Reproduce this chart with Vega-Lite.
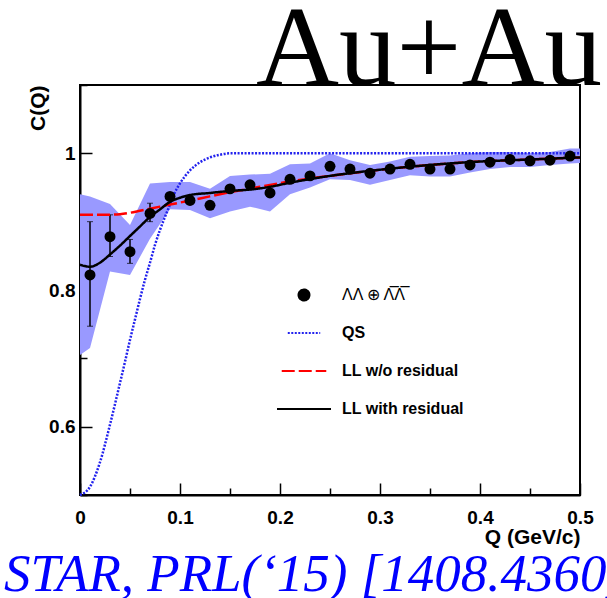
{
  "$schema": "https://vega.github.io/schema/vega-lite/v6.json",
  "width": 500,
  "height": 410,
  "autosize": {"type": "none"},
  "padding": {"left": 80, "top": 85, "right": 27, "bottom": 103},
  "background": "white",
  "title": {"text": "Au+Au", "font": "Liberation Serif", "fontSize": 115, "fontWeight": "normal", "color": "black", "anchor": "end", "frame": "group", "baseline": "top", "offset": -33, "dx": 22},
  "config": {"view": {"stroke": "black", "strokeWidth": 2}, "font": "Liberation Sans"},
  "datasets": {
    "points": [
      {"Q": 0.01, "C": 0.822}, {"Q": 0.03, "C": 0.878}, {"Q": 0.05, "C": 0.856}, {"Q": 0.07, "C": 0.912},
      {"Q": 0.09, "C": 0.937}, {"Q": 0.11, "C": 0.931}, {"Q": 0.13, "C": 0.924}, {"Q": 0.15, "C": 0.948},
      {"Q": 0.17, "C": 0.954}, {"Q": 0.19, "C": 0.942}, {"Q": 0.21, "C": 0.962}, {"Q": 0.23, "C": 0.967},
      {"Q": 0.25, "C": 0.981}, {"Q": 0.27, "C": 0.977}, {"Q": 0.29, "C": 0.971}, {"Q": 0.31, "C": 0.977},
      {"Q": 0.33, "C": 0.984}, {"Q": 0.35, "C": 0.977}, {"Q": 0.37, "C": 0.977}, {"Q": 0.39, "C": 0.983},
      {"Q": 0.41, "C": 0.987}, {"Q": 0.43, "C": 0.991}, {"Q": 0.45, "C": 0.989}, {"Q": 0.47, "C": 0.990},
      {"Q": 0.49, "C": 0.996}
    ],
    "errors": [
      {"Q": 0.01, "lo": 0.747, "hi": 0.900}, {"Q": 0.03, "lo": 0.849, "hi": 0.910},
      {"Q": 0.05, "lo": 0.839, "hi": 0.874}, {"Q": 0.07, "lo": 0.900, "hi": 0.927}
    ],
    "band": [
      {"Q": 0.0, "lo": 0.705, "hi": 0.940}, {"Q": 0.01, "lo": 0.715, "hi": 0.937}, {"Q": 0.03, "lo": 0.827, "hi": 0.926},
      {"Q": 0.05, "lo": 0.822, "hi": 0.895}, {"Q": 0.07, "lo": 0.875, "hi": 0.956}, {"Q": 0.09, "lo": 0.918, "hi": 0.958},
      {"Q": 0.11, "lo": 0.917, "hi": 0.958}, {"Q": 0.13, "lo": 0.905, "hi": 0.948}, {"Q": 0.15, "lo": 0.915, "hi": 0.967},
      {"Q": 0.17, "lo": 0.922, "hi": 0.969}, {"Q": 0.19, "lo": 0.915, "hi": 0.970}, {"Q": 0.21, "lo": 0.940, "hi": 0.984},
      {"Q": 0.23, "lo": 0.950, "hi": 0.985}, {"Q": 0.25, "lo": 0.962, "hi": 1.000}, {"Q": 0.27, "lo": 0.961, "hi": 0.990},
      {"Q": 0.29, "lo": 0.954, "hi": 0.983}, {"Q": 0.31, "lo": 0.961, "hi": 0.988}, {"Q": 0.33, "lo": 0.968, "hi": 0.995},
      {"Q": 0.35, "lo": 0.966, "hi": 0.996}, {"Q": 0.37, "lo": 0.966, "hi": 0.997}, {"Q": 0.39, "lo": 0.972, "hi": 1.000},
      {"Q": 0.41, "lo": 0.977, "hi": 1.002}, {"Q": 0.43, "lo": 0.980, "hi": 1.002}, {"Q": 0.45, "lo": 0.980, "hi": 1.000},
      {"Q": 0.47, "lo": 0.983, "hi": 1.002}, {"Q": 0.49, "lo": 0.985, "hi": 1.007}, {"Q": 0.50, "lo": 0.986, "hi": 1.007}
    ],
    "curves": [
      {"series": "QS", "Q": 0.0, "C": 0.500}, {"series": "QS", "Q": 0.01, "C": 0.512}, {"series": "QS", "Q": 0.02, "C": 0.548},
      {"series": "QS", "Q": 0.03, "C": 0.603}, {"series": "QS", "Q": 0.04, "C": 0.664}, {"series": "QS", "Q": 0.045, "C": 0.695},
      {"series": "QS", "Q": 0.05, "C": 0.727}, {"series": "QS", "Q": 0.055, "C": 0.757}, {"series": "QS", "Q": 0.06, "C": 0.787},
      {"series": "QS", "Q": 0.065, "C": 0.815}, {"series": "QS", "Q": 0.07, "C": 0.840}, {"series": "QS", "Q": 0.075, "C": 0.866},
      {"series": "QS", "Q": 0.08, "C": 0.888}, {"series": "QS", "Q": 0.085, "C": 0.907}, {"series": "QS", "Q": 0.09, "C": 0.925},
      {"series": "QS", "Q": 0.095, "C": 0.943}, {"series": "QS", "Q": 0.10, "C": 0.956}, {"series": "QS", "Q": 0.11, "C": 0.975},
      {"series": "QS", "Q": 0.12, "C": 0.987}, {"series": "QS", "Q": 0.13, "C": 0.994}, {"series": "QS", "Q": 0.14, "C": 0.998},
      {"series": "QS", "Q": 0.15, "C": 1.0}, {"series": "QS", "Q": 0.2, "C": 1.0}, {"series": "QS", "Q": 0.3, "C": 1.0},
      {"series": "QS", "Q": 0.4, "C": 1.0}, {"series": "QS", "Q": 0.5, "C": 1.0},
      {"series": "LL w/o residual", "Q": 0.0, "C": 0.910}, {"series": "LL w/o residual", "Q": 0.02, "C": 0.910},
      {"series": "LL w/o residual", "Q": 0.04, "C": 0.911}, {"series": "LL w/o residual", "Q": 0.05, "C": 0.913},
      {"series": "LL w/o residual", "Q": 0.06, "C": 0.916}, {"series": "LL w/o residual", "Q": 0.08, "C": 0.922},
      {"series": "LL w/o residual", "Q": 0.10, "C": 0.928}, {"series": "LL w/o residual", "Q": 0.12, "C": 0.934},
      {"series": "LL w/o residual", "Q": 0.15, "C": 0.943}, {"series": "LL w/o residual", "Q": 0.18, "C": 0.951},
      {"series": "LL w/o residual", "Q": 0.21, "C": 0.959}, {"series": "LL w/o residual", "Q": 0.25, "C": 0.967},
      {"series": "LL w/o residual", "Q": 0.30, "C": 0.976}, {"series": "LL w/o residual", "Q": 0.35, "C": 0.983},
      {"series": "LL w/o residual", "Q": 0.40, "C": 0.988}, {"series": "LL w/o residual", "Q": 0.45, "C": 0.991},
      {"series": "LL w/o residual", "Q": 0.50, "C": 0.994},
      {"series": "LL with residual", "Q": 0.0, "C": 0.837}, {"series": "LL with residual", "Q": 0.01, "C": 0.834},
      {"series": "LL with residual", "Q": 0.02, "C": 0.840}, {"series": "LL with residual", "Q": 0.03, "C": 0.852},
      {"series": "LL with residual", "Q": 0.04, "C": 0.865}, {"series": "LL with residual", "Q": 0.05, "C": 0.879},
      {"series": "LL with residual", "Q": 0.06, "C": 0.893}, {"series": "LL with residual", "Q": 0.07, "C": 0.907},
      {"series": "LL with residual", "Q": 0.08, "C": 0.918}, {"series": "LL with residual", "Q": 0.09, "C": 0.929},
      {"series": "LL with residual", "Q": 0.10, "C": 0.935}, {"series": "LL with residual", "Q": 0.11, "C": 0.939},
      {"series": "LL with residual", "Q": 0.13, "C": 0.942}, {"series": "LL with residual", "Q": 0.15, "C": 0.945},
      {"series": "LL with residual", "Q": 0.17, "C": 0.947}, {"series": "LL with residual", "Q": 0.19, "C": 0.951},
      {"series": "LL with residual", "Q": 0.21, "C": 0.957}, {"series": "LL with residual", "Q": 0.25, "C": 0.967},
      {"series": "LL with residual", "Q": 0.30, "C": 0.976}, {"series": "LL with residual", "Q": 0.35, "C": 0.983},
      {"series": "LL with residual", "Q": 0.40, "C": 0.988}, {"series": "LL with residual", "Q": 0.45, "C": 0.991},
      {"series": "LL with residual", "Q": 0.50, "C": 0.994}
    ]
  },
  "layer": [
    {
      "data": {"name": "band"},
      "mark": {"type": "area", "color": "#9999ff", "opacity": 1},
      "encoding": {
        "x": {
          "field": "Q", "type": "quantitative",
          "scale": {"domain": [0, 0.5], "nice": false, "zero": false},
          "axis": {
            "title": "Q (GeV/c)",
            "values": [0, 0.05, 0.1, 0.15, 0.2, 0.25, 0.3, 0.35, 0.4, 0.45, 0.5],
            "labelExpr": "(round(datum.value*100) % 10 == 0) ? (datum.value == 0 ? '0' : format(datum.value, '.1f')) : ''",
            "tickSize": {"condition": {"test": "round(datum.value*100) % 10 == 0", "value": -12}, "value": -7},
            "tickColor": "black", "tickWidth": 1.5, "domainColor": "black", "domainWidth": 2, "grid": false,
            "labelFont": "Liberation Sans", "labelFontWeight": "bold", "labelFontSize": 19, "labelColor": "black",
            "labelPadding": 25, "labelFlush": false, "labelOverlap": false,
            "titleFont": "Liberation Sans", "titleFontWeight": "bold", "titleFontSize": 21, "titleColor": "black",
            "titleAnchor": "end", "titlePadding": -6
          }
        },
        "y": {
          "field": "lo", "type": "quantitative",
          "scale": {"domain": [0.5, 1.1], "nice": false, "zero": false},
          "axis": {
            "title": "C(Q)",
            "values": [0.5, 0.55, 0.6, 0.65, 0.7, 0.75, 0.8, 0.85, 0.9, 0.95, 1.0, 1.05, 1.1],
            "labelExpr": "(round(datum.value*100) % 20 == 0) ? (datum.value == 1 ? '1' : format(datum.value, '.1f')) : ''",
            "tickSize": {"condition": {"test": "round(datum.value*100) % 20 == 0", "value": -12}, "value": -7},
            "tickColor": "black", "tickWidth": 1.5, "domainColor": "black", "domainWidth": 2, "grid": false,
            "labelFont": "Liberation Sans", "labelFontWeight": "bold", "labelFontSize": 19, "labelColor": "black",
            "labelPadding": 17, "labelFlush": false, "labelOverlap": false,
            "titleFont": "Liberation Sans", "titleFontWeight": "bold", "titleFontSize": 21, "titleColor": "black",
            "titleAnchor": "end", "titleX": -32
          }
        },
        "y2": {"field": "hi"}
      }
    },
    {
      "data": {"name": "errors"},
      "mark": {"type": "errorbar", "ticks": {"size": 6, "color": "black", "strokeWidth": 1.5}, "rule": {"color": "black", "strokeWidth": 1.5}},
      "encoding": {
        "x": {"field": "Q", "type": "quantitative", "title": "Q (GeV/c)"},
        "y": {"field": "lo", "type": "quantitative", "title": "C(Q)"},
        "y2": {"field": "hi"}
      }
    },
    {
      "data": {"name": "curves"},
      "mark": {"type": "line", "strokeWidth": 2.5, "interpolate": "monotone"},
      "encoding": {
        "x": {"field": "Q", "type": "quantitative", "title": "Q (GeV/c)"},
        "y": {"field": "C", "type": "quantitative", "title": "C(Q)"},
        "color": {
          "field": "series", "type": "nominal",
          "scale": {"domain": ["\u039b\u039b \u2295 \u039b\u0305\u039b\u0305", "QS", "LL w/o residual", "LL with residual"], "range": ["black", "#2222ee", "#ff0000", "black"]},
          "legend": {
            "title": null, "orient": "none", "legendX": 196, "legendY": 191, "padding": 0,
            "labelFont": "Liberation Sans", "labelFontWeight": "bold", "labelFontSize": 16, "labelColor": "black",
            "labelOffset": 10, "rowPadding": 0, "gridAlign": "all", "clipHeight": 38, "symbolStrokeWidth": 2,
            "encoding": {
              "labels": {"fontWeight": {"condition": {"test": "datum.index == 0", "value": "normal"}, "value": "bold"}},
              "symbols": {"fill": {"condition": {"test": "datum.index == 0", "value": "black"}, "value": "transparent"}}
            }
          }
        },
        "strokeDash": {
          "field": "series", "type": "nominal",
          "scale": {"domain": ["\u039b\u039b \u2295 \u039b\u0305\u039b\u0305", "QS", "LL w/o residual", "LL with residual"], "range": [[1, 0], [2, 1.5], [13, 4], [1, 0]]}
        },
        "detail": {"field": "series"}
      }
    },
    {
      "data": {"name": "points"},
      "mark": {"type": "point", "filled": true, "color": "black", "opacity": 1},
      "encoding": {
        "x": {"field": "Q", "type": "quantitative", "title": "Q (GeV/c)"},
        "y": {"field": "C", "type": "quantitative", "title": "C(Q)"},
        "shape": {
          "datum": "\u039b\u039b \u2295 \u039b\u0305\u039b\u0305", "type": "nominal",
          "scale": {"domain": ["\u039b\u039b \u2295 \u039b\u0305\u039b\u0305", "QS", "LL w/o residual", "LL with residual"], "range": ["circle", "stroke", "stroke", "stroke"]}
        },
        "size": {
          "datum": "\u039b\u039b \u2295 \u039b\u0305\u039b\u0305", "type": "nominal",
          "scale": {"domain": ["\u039b\u039b \u2295 \u039b\u0305\u039b\u0305", "QS", "LL w/o residual", "LL with residual"], "range": [120, 2916, 2916, 2916]}
        }
      }
    },
    {
      "data": {"values": [{"label": "STAR, PRL(\u201815) [1408.4360]"}]},
      "mark": {"type": "text", "clip": false, "font": "Liberation Serif", "fontStyle": "italic", "fontSize": 53, "color": "#0000ff", "align": "left", "baseline": "alphabetic"},
      "encoding": {
        "x": {"datum": -0.076, "type": "quantitative", "title": "Q (GeV/c)"},
        "y": {"datum": 0.359, "type": "quantitative", "title": "C(Q)"},
        "text": {"field": "label"}
      }
    }
  ]
}
